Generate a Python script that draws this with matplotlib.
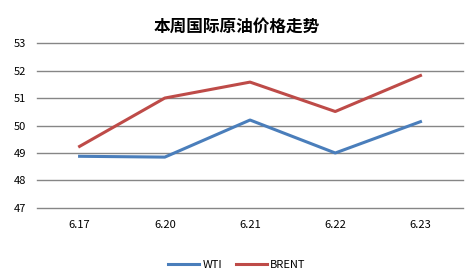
import matplotlib
matplotlib.use('Agg')
import matplotlib.pyplot as plt

plt.rcParams['font.family'] = ['Noto Sans CJK SC', 'DejaVu Sans']

dates = ['6.17', '6.20', '6.21', '6.22', '6.23']
wti = [48.88, 48.85, 50.20, 49.00, 50.14]
brent = [49.24, 51.00, 51.58, 50.51, 51.82]
yticks = [47, 48, 49, 50, 51, 52, 53]

fig = plt.figure(figsize=(4.74, 2.78), dpi=100)
ax = fig.add_axes([0.078, 0.252, 0.899, 0.593])

x = range(len(dates))
ax.plot(x, wti, color='#4A7EBB', lw=2.2, label='WTI')
ax.plot(x, brent, color='#BE4B48', lw=2.2, label='BRENT')

ax.set_xlim(-0.5, len(dates) - 0.5)
ax.set_ylim(47, 53)
ax.set_yticks(yticks)
ax.set_xticks(list(x))
ax.set_xticklabels(dates)
ax.grid(axis='y', color='#868686', lw=1)
for gl in ax.get_ygridlines():
    gl.set_clip_on(False)
ax.set_axisbelow(True)
for s in ax.spines.values():
    s.set_visible(False)
ax.tick_params(length=0, labelsize=8, colors='black')
ax.tick_params(axis='y', pad=8)
ax.tick_params(axis='x', pad=9)

fig.text(0.5, 0.905, '本周国际原油价格走势', ha='center', va='center',
         fontsize=12, fontweight='bold')
fig.legend(loc='center', bbox_to_anchor=(0.5, 0.048), ncol=2, frameon=False,
           fontsize=8, handlelength=2.8, columnspacing=1.2, handletextpad=0.3)

fig.savefig('out.png', dpi=100)
